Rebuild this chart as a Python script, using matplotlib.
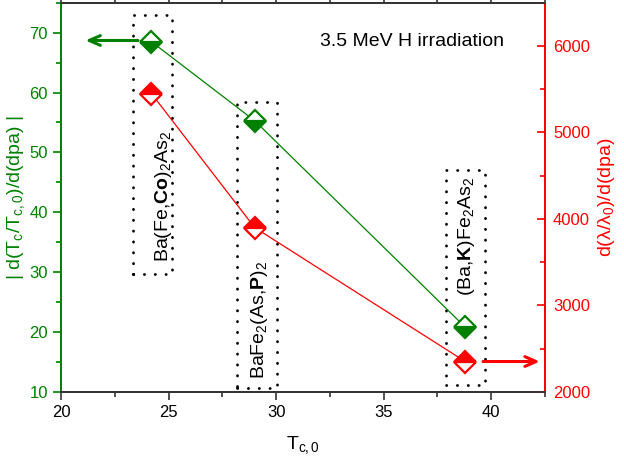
import matplotlib
matplotlib.use('Agg')
import matplotlib.pyplot as plt

plt.rcParams['font.family'] = ['Liberation Sans', 'DejaVu Sans']
plt.rcParams['mathtext.fontset'] = 'custom'
plt.rcParams['mathtext.rm'] = 'Liberation Sans'
plt.rcParams['mathtext.it'] = 'Liberation Sans'
plt.rcParams['mathtext.bf'] = 'Liberation Sans:bold'

GREEN = '#008000'
RED = '#ff0000'
GRAY = '#333333'

# data
tc0 = [24.2, 29.0, 38.8]
dtc = [68.5, 55.3, 20.8]          # left axis
dlam = [5450, 3900, 2350]         # right axis
compounds = [r'Ba(Fe,$\mathbf{Co}$)$_2$As$_2$',
             r'BaFe$_2$(As,$\mathbf{P}$)$_2$',
             r'(Ba,$\mathbf{K}$)Fe$_2$As$_2$']
# dotted boxes (x0, x1, y0, y1) in left-axis units
boxes = [(23.35, 25.15, 29.6, 72.9),
         (28.2, 30.05, 10.7, 58.5),
         (37.9, 39.7, 11.2, 47.0)]
label_pos = [(24.75, 42.6), (29.25, 22.0), (38.85, 35.9)]

fig = plt.figure(figsize=(6.24, 4.62), dpi=100)
ax = fig.add_axes([0.098, 0.152, 0.775, 0.842])
ax2 = ax.twinx()

ax.plot(tc0, dtc, color=GREEN, lw=0.9, marker='D', ms=11.5, mew=1.6,
        fillstyle='bottom', markerfacecoloralt='white', mec=GREEN, mfc=GREEN, zorder=3)
ax2.plot(tc0, dlam, color=RED, lw=0.9, marker='D', ms=11.5, mew=1.6,
         fillstyle='top', markerfacecoloralt='white', mec=RED, mfc=RED, zorder=3)

for (x0, x1, y0, y1) in boxes:
    ax.plot([x0, x1, x1, x0, x0], [y0, y0, y1, y1, y0], color='black',
            ls=(0, (0.1, 3.8)), lw=2.0, dash_capstyle='round')
for (x, y), t in zip(label_pos, compounds):
    ax.text(x, y, t, rotation=90, ha='center', va='center', fontsize=14)

ax.text(0.915, 0.90, '3.5 MeV H irradiation', transform=ax.transAxes,
        ha='right', va='center', fontsize=14)

# arrows pointing to the axes
ax.annotate('', xy=(21.0, 68.7), xytext=(23.7, 68.7),
            arrowprops=dict(arrowstyle='->,head_length=0.8,head_width=0.35',
                            color=GREEN, lw=2.2))
ax2.annotate('', xy=(42.4, 2350), xytext=(39.5, 2350),
             arrowprops=dict(arrowstyle='->,head_length=0.8,head_width=0.35',
                             color=RED, lw=2.2))

ax.set_xlim(20, 42.5)
ax.set_ylim(10, 75)
ax2.set_ylim(2000, 6500)
ax.set_xticks([20, 25, 30, 35, 40])
ax.set_xticks([22.5, 27.5, 32.5, 37.5, 42.5], minor=True)
ax.set_yticks([10, 20, 30, 40, 50, 60, 70])
ax.set_yticks([15, 25, 35, 45, 55, 65, 75], minor=True)
ax2.set_yticks([2000, 3000, 4000, 5000, 6000])
ax2.set_yticks([2500, 3500, 4500, 5500, 6500], minor=True)

ax.set_xlabel(r'T$_{\mathregular{c,0}}$', fontsize=14, labelpad=10)
ax.set_ylabel(r'| d(T$_\mathregular{c}$/T$_{\mathregular{c,0}}$)/d(dpa) |',
              color=GREEN, fontsize=14, labelpad=2)
ax2.set_ylabel(r'd($\lambda$/$\lambda_\mathregular{0}$)/d(dpa)', color=RED,
               fontsize=14, labelpad=4)

for a in (ax, ax2):
    a.spines['top'].set_color(GRAY)
    a.spines['bottom'].set_color(GRAY)
    a.spines['left'].set_color(GREEN)
    a.spines['right'].set_color(RED)
    for s in a.spines.values():
        s.set_linewidth(1.3)

ax.tick_params(axis='x', which='both', direction='out', top=True, colors=GRAY,
               labelcolor='black', labelsize=12, width=1.2)
ax.tick_params(axis='x', which='major', length=6)
ax.tick_params(axis='x', which='minor', length=3.5)
ax.tick_params(axis='y', which='both', direction='out', colors=GREEN,
               labelcolor=GREEN, labelsize=12, width=1.2)
ax.tick_params(axis='y', which='major', length=6)
ax.tick_params(axis='y', which='minor', length=3.5)
ax2.tick_params(axis='y', which='both', direction='in', colors=RED,
                labelcolor=RED, labelsize=12, width=1.2, pad=6)
ax2.tick_params(axis='y', which='major', length=6)
ax2.tick_params(axis='y', which='minor', length=3.5)

fig.savefig('out.png', dpi=100)
